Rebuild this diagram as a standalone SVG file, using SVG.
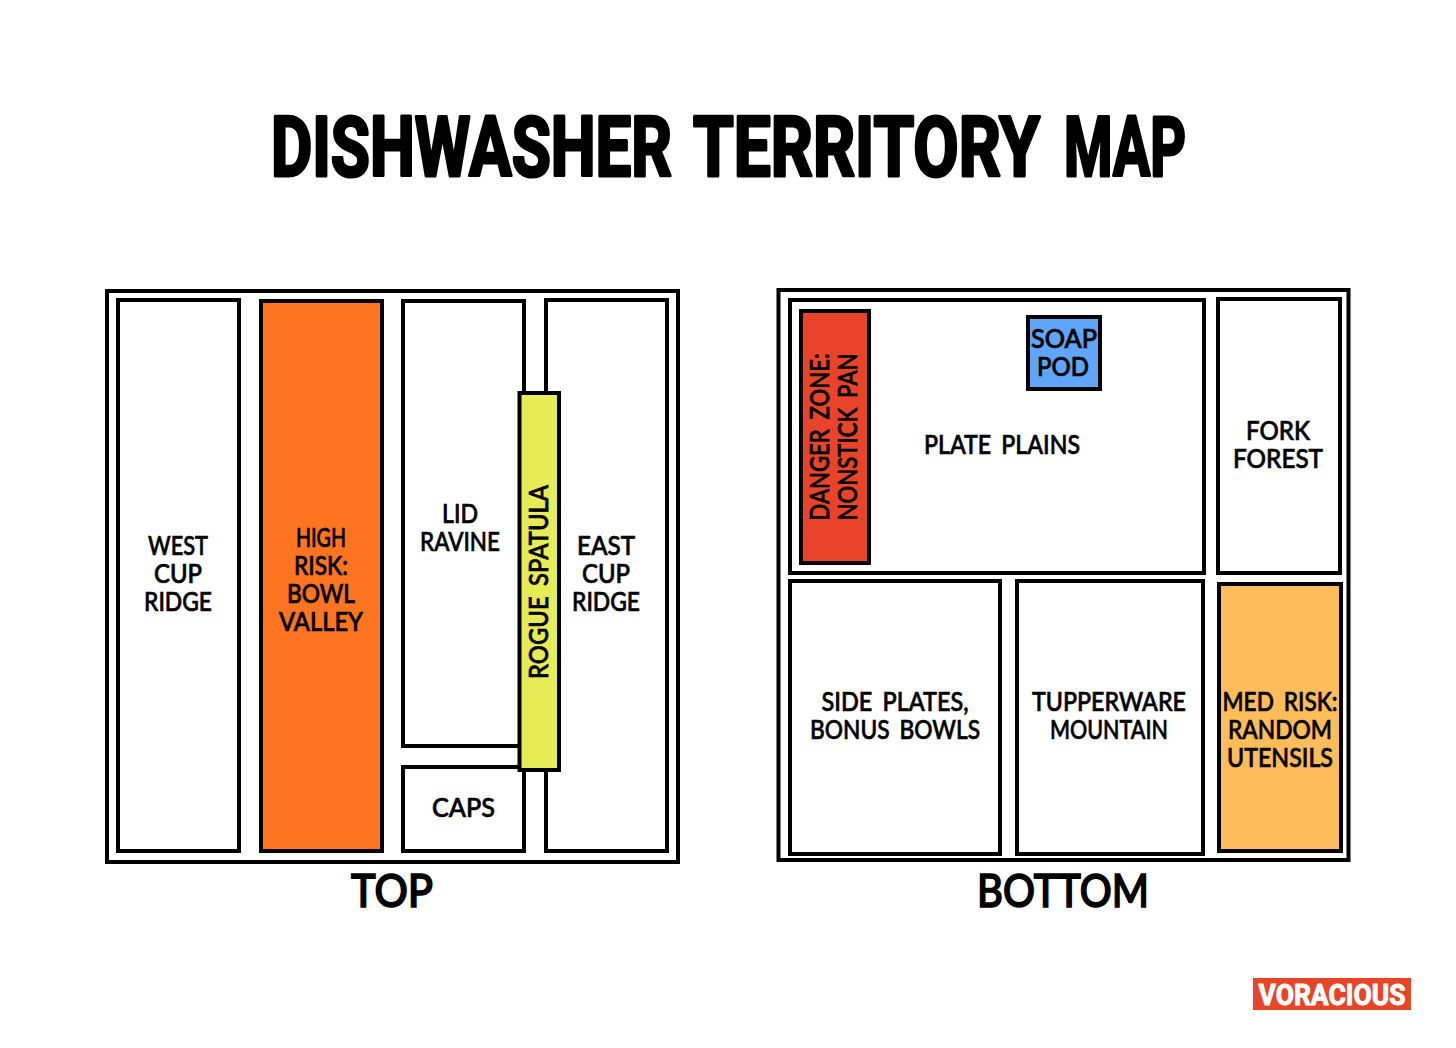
<svg xmlns="http://www.w3.org/2000/svg" width="1456" height="1048" viewBox="0 0 1456 1048">
<style>
.box{fill:#fff;stroke:#000;stroke-width:4}
.l{font-family:"Lato","Liberation Sans",sans-serif;font-size:27px;font-weight:500;fill:#000;stroke:#000;stroke-width:.7;text-anchor:middle;word-spacing:5px}
.h{font-family:"Lato","Liberation Sans",sans-serif;font-size:46px;font-weight:500;fill:#000;stroke:#000;stroke-width:1.6;text-anchor:middle}
.t{font-family:"Roboto","Liberation Sans",sans-serif;font-weight:700;fill:#000;stroke:#000;stroke-linejoin:round}
</style>
<rect width="1456" height="1048" fill="#fff"/>
<text id="title" class="t" transform="translate(0 175.700) scale(1 1.340)" font-size="62" stroke-width="2.400"><tspan x="271" y="0" textLength="401" lengthAdjust="spacingAndGlyphs">DISHWASHER</tspan><tspan x="693" y="0" textLength="347" lengthAdjust="spacingAndGlyphs">TERRITORY</tspan><tspan x="1064" y="0" textLength="122" lengthAdjust="spacingAndGlyphs">MAP</tspan></text>
<g id="top-rack">
<rect class="box" x="107" y="291" width="571" height="571"/>
<text class="h" x="392" y="907" textLength="82" lengthAdjust="spacingAndGlyphs">TOP</text>
</g>
<g id="west-cup-ridge"><rect class="box" x="118" y="300" width="121" height="551"/>
<text class="l"><tspan x="178" y="555" textLength="60" lengthAdjust="spacingAndGlyphs">WEST</tspan><tspan x="178" y="583" textLength="48" lengthAdjust="spacingAndGlyphs">CUP</tspan><tspan x="178" y="611" textLength="68" lengthAdjust="spacingAndGlyphs">RIDGE</tspan></text></g>
<g id="bowl-valley"><rect class="box" x="261" y="301" width="121" height="550" style="fill:#FF7420"/>
<text class="l"><tspan x="321" y="547" textLength="50" lengthAdjust="spacingAndGlyphs">HIGH</tspan><tspan x="321" y="575" textLength="54" lengthAdjust="spacingAndGlyphs">RISK:</tspan><tspan x="321" y="603" textLength="68" lengthAdjust="spacingAndGlyphs">BOWL</tspan><tspan x="321" y="631" textLength="84" lengthAdjust="spacingAndGlyphs">VALLEY</tspan></text></g>
<g id="lid-ravine"><rect class="box" x="403" y="301" width="121" height="445"/>
<text class="l"><tspan x="460" y="523" textLength="36" lengthAdjust="spacingAndGlyphs">LID</tspan><tspan x="460" y="551" textLength="80" lengthAdjust="spacingAndGlyphs">RAVINE</tspan></text></g>
<g id="caps"><rect class="box" x="403" y="767" width="121" height="84"/>
<text class="l" x="463.500" y="817" textLength="63" lengthAdjust="spacingAndGlyphs">CAPS</text></g>
<g id="east-cup-ridge"><rect class="box" x="546" y="300" width="121" height="551"/>
<text class="l"><tspan x="606" y="555" textLength="58" lengthAdjust="spacingAndGlyphs">EAST</tspan><tspan x="606" y="583" textLength="48" lengthAdjust="spacingAndGlyphs">CUP</tspan><tspan x="606" y="611" textLength="68" lengthAdjust="spacingAndGlyphs">RIDGE</tspan></text></g>
<g id="rogue-spatula"><rect class="box" x="519.500" y="393" width="39.500" height="377" style="fill:#E5EC55"/>
<text class="l" transform="translate(548 582) rotate(-90)" textLength="194" lengthAdjust="spacingAndGlyphs">ROGUE SPATULA</text></g>
<g id="bottom-rack">
<rect class="box" x="778.500" y="290" width="570" height="570"/>
<text class="h" x="1063" y="907" textLength="172" lengthAdjust="spacingAndGlyphs">BOTTOM</text>
</g>
<g id="plate-plains"><rect class="box" x="790" y="300" width="414" height="273"/>
<text class="l" x="1002" y="454" textLength="156" lengthAdjust="spacingAndGlyphs">PLATE PLAINS</text></g>
<g id="danger-zone"><rect class="box" x="801" y="311" width="68" height="252" style="fill:#E8442A"/>
<text class="l" transform="translate(829 437) rotate(-90)"><tspan x="0" y="0" textLength="167" lengthAdjust="spacingAndGlyphs">DANGER ZONE:</tspan><tspan x="0" y="28" textLength="167" lengthAdjust="spacingAndGlyphs">NONSTICK PAN</tspan></text></g>
<g id="soap-pod"><rect class="box" x="1028" y="317" width="72" height="72" style="fill:#5FA5FA"/>
<text class="l"><tspan x="1064" y="348" textLength="66" lengthAdjust="spacingAndGlyphs">SOAP</tspan><tspan x="1063" y="376" textLength="52" lengthAdjust="spacingAndGlyphs">POD</tspan></text></g>
<g id="fork-forest"><rect class="box" x="1218" y="299" width="122" height="274"/>
<text class="l"><tspan x="1278" y="440" textLength="64" lengthAdjust="spacingAndGlyphs">FORK</tspan><tspan x="1278" y="468" textLength="90" lengthAdjust="spacingAndGlyphs">FOREST</tspan></text></g>
<g id="side-plates"><rect class="box" x="790" y="581" width="210" height="273"/>
<text class="l"><tspan x="895" y="711" textLength="147" lengthAdjust="spacingAndGlyphs">SIDE PLATES,</tspan><tspan x="895" y="739" textLength="170" lengthAdjust="spacingAndGlyphs">BONUS BOWLS</tspan></text></g>
<g id="tupperware-mountain"><rect class="box" x="1017" y="581" width="186" height="273"/>
<text class="l"><tspan x="1109" y="711" textLength="154" lengthAdjust="spacingAndGlyphs">TUPPERWARE</tspan><tspan x="1109" y="739" textLength="118" lengthAdjust="spacingAndGlyphs">MOUNTAIN</tspan></text></g>
<g id="random-utensils"><rect class="box" x="1219" y="584" width="122" height="267" style="fill:#FFBC5A"/>
<text class="l"><tspan x="1280" y="711" textLength="115" lengthAdjust="spacingAndGlyphs">MED RISK:</tspan><tspan x="1280" y="739" textLength="104" lengthAdjust="spacingAndGlyphs">RANDOM</tspan><tspan x="1280" y="767" textLength="106" lengthAdjust="spacingAndGlyphs">UTENSILS</tspan></text></g>
<g id="logo"><rect x="1253" y="978" width="158" height="32" fill="#E8442A"/>
<text class="t" x="1258.500" y="1004.500" font-size="29" stroke-width="1" style="fill:#fff;stroke:#fff" textLength="147" lengthAdjust="spacingAndGlyphs">VORACIOUS</text></g>
</svg>
